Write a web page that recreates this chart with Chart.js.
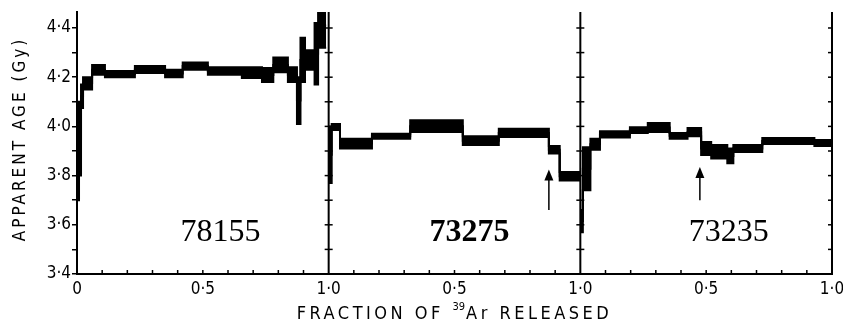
<!DOCTYPE html>
<html>
<head>
<meta charset="utf-8">
<script src="https://cdn.jsdelivr.net/npm/chart.js@4.4.0/dist/chart.umd.min.js"></script>
<style>
  html, body { margin: 0; padding: 0; background: #fff; }
  #wrap { width: 843px; height: 326px; }
</style>
</head>
<body>
<div id="wrap"><canvas id="spectra"></canvas></div>
<script>
// Ar-Ar age spectra, one panel per sample
const samples = ['78155', '73275', '73235'];

// step boundaries (fraction of 39Ar released) and the age band of each step (Gy)
const steps78155 = [0, 0.008, 0.016, 0.024, 0.06, 0.111, 0.23, 0.35, 0.42, 0.52, 0.655, 0.735, 0.78, 0.838, 0.874, 0.888, 0.906, 0.944, 0.958, 0.99];
const high78155 = [4.10, 4.08, 4.17, 4.20, 4.25, 4.225, 4.245, 4.23, 4.26, 4.24, 4.24, 4.237, 4.28, 4.24, 4.20, 4.36, 4.31, 4.42, 4.50];
const low78155 = [3.70, 3.80, 4.075, 4.15, 4.21, 4.20, 4.217, 4.20, 4.23, 4.21, 4.197, 4.18, 4.22, 4.18, 4.01, 4.18, 4.23, 4.17, 4.32];

const steps73275 = [0, 0.012, 0.045, 0.172, 0.324, 0.533, 0.676, 0.875, 0.918, 1.0];
const high73275 = [4.00, 4.01, 3.95, 3.97, 4.025, 3.96, 3.99, 3.92, 3.815];
const low73275 = [3.77, 3.985, 3.91, 3.95, 3.977, 3.924, 3.957, 3.89, 3.78];

const steps73235 = [0, 0.01, 0.04, 0.078, 0.197, 0.268, 0.355, 0.426, 0.48, 0.52, 0.584, 0.608, 0.723, 0.93, 1.0];
const high73235 = [3.66, 3.915, 3.95, 3.98, 3.997, 4.014, 3.973, 3.993, 3.937, 3.924, 3.91, 3.924, 3.953, 3.945];
const low73235 = [3.57, 3.74, 3.905, 3.955, 3.973, 3.977, 3.95, 3.96, 3.884, 3.87, 3.85, 3.896, 3.928, 3.92];

// arrows (panel index, fraction, tip age, tail age)
const arrowPanel = [1, 2];
const arrowFraction = [0.875, 0.475];
const arrowTip = [3.825, 3.835];
const arrowTail = [3.66, 3.70];

const panelSteps = [steps78155, steps73275, steps73235];
const panelHigh = [high78155, high73275, high73235];
const panelLow = [low78155, low73275, low73235];

const FONT = '"DejaVu Sans Condensed", "DejaVu Sans", sans-serif';

function stepPoints(panel, values) {
    const steps = panelSteps[panel];
    return steps.map((f, i) => ({ x: panel + f, y: values[Math.min(i, values.length - 1)] }));
}

const datasets = [];
samples.forEach((name, p) => {
    const mid = panelHigh[p].map((h, i) => (h + panelLow[p][i]) / 2);
    const common = { stepped: true, pointRadius: 0, borderColor: '#000', borderWidth: 2 };
    datasets.push(Object.assign({ label: name + ' high', data: stepPoints(p, panelHigh[p]), fill: '+1', backgroundColor: '#000' }, common));
    datasets.push(Object.assign({ label: name + ' low', data: stepPoints(p, panelLow[p]), fill: false }, common));
    datasets.push(Object.assign({ label: name + ' mid', data: stepPoints(p, mid), fill: false }, common));
});

function line(ctx, x1, y1, x2, y2) {
    ctx.beginPath();
    ctx.moveTo(x1, y1);
    ctx.lineTo(x2, y2);
    ctx.stroke();
}

const decorations = {
    id: 'decorations',
    afterDraw(chart) {
        const ctx = chart.ctx;
        const xs = chart.scales.x, ys = chart.scales.y, area = chart.chartArea;
        ctx.save();
        ctx.strokeStyle = '#000';
        ctx.fillStyle = '#000';

        // panel dividers and right edge
        ctx.lineWidth = 2;
        [1, 2, 3].forEach(v => {
            const px = xs.getPixelForValue(v);
            line(ctx, px, area.top, px, area.bottom);
        });
        ctx.lineWidth = 1.5;
        for (let k = 34; k <= 44; k++) {
            const py = ys.getPixelForValue(k / 10);
            [1, 2].forEach(v => {
                const px = xs.getPixelForValue(v);
                line(ctx, px - 4, py, px + 4, py);
            });
            const pr = xs.getPixelForValue(3);
            line(ctx, pr - 4, py, pr, py);
        }
        // inward minor ticks along the bottom
        for (let k = 1; k < 30; k++) {
            if (k % 10 === 0) continue;
            const px = xs.getPixelForValue(k / 10);
            line(ctx, px, area.bottom, px, area.bottom - 4);
        }

        // arrows
        arrowPanel.forEach((p, i) => {
            const px = xs.getPixelForValue(p + arrowFraction[i]);
            const tip = ys.getPixelForValue(arrowTip[i]);
            const tail = ys.getPixelForValue(arrowTail[i]);
            ctx.lineWidth = 1.5;
            line(ctx, px, tail, px, tip + 8);
            ctx.beginPath();
            ctx.moveTo(px, tip);
            ctx.lineTo(px - 4.5, tip + 11);
            ctx.lineTo(px + 4.5, tip + 11);
            ctx.closePath();
            ctx.fill();
        });

        // sample numbers
        const labelAt = [0.57, 0.56, 0.59];
        ctx.textAlign = 'center';
        ctx.textBaseline = 'alphabetic';
        samples.forEach((name, p) => {
            ctx.font = (p === 1 ? 'bold ' : '') + '32px "Liberation Serif", serif';
            ctx.fillText(name, xs.getPixelForValue(p + labelAt[p]), 241);
        });

        // axis titles
        ctx.letterSpacing = '3px';
        ctx.font = '17px ' + FONT;
        ctx.save();
        ctx.translate(21, 139);
        ctx.rotate(-Math.PI / 2);
        ctx.textBaseline = 'middle';
        ctx.fillText('APPARENT AGE (Gy)', 0, 0);
        ctx.restore();

        ctx.textAlign = 'left';
        const part1 = 'FRACTION OF ', sup = '39', part2 = 'Ar RELEASED';
        ctx.letterSpacing = '3.5px';
        ctx.font = '18px ' + FONT;
        const w1 = ctx.measureText(part1).width, w2 = ctx.measureText(part2).width;
        ctx.letterSpacing = '0px';
        ctx.font = '11px ' + FONT;
        const ws = ctx.measureText(sup).width + 1;
        let x = (area.left + area.right) / 2 - (w1 + ws + w2) / 2;
        ctx.fillText(sup, x + w1, 310);
        ctx.letterSpacing = '3.5px';
        ctx.font = '18px ' + FONT;
        ctx.fillText(part1, x, 319);
        ctx.fillText(part2, x + w1 + ws, 319);
        ctx.restore();
    }
};

new Chart(document.getElementById('spectra'), {
    type: 'line',
    data: { datasets: datasets },
    plugins: [decorations],
    options: {
        responsive: true,
        maintainAspectRatio: false,
        animation: false,
        layout: { padding: { top: 12, right: 11, left: 0, bottom: 0 } },
        plugins: { legend: { display: false }, tooltip: { enabled: false } },
        scales: {
            x: {
                type: 'linear',
                min: 0,
                max: 3,
                grid: { display: false, drawTicks: false },
                border: { display: true, color: '#000', width: 2 },
                ticks: {
                    stepSize: 0.5,
                    autoSkip: false,
                    maxRotation: 0,
                    padding: 5,
                    color: '#000',
                    font: { family: FONT, size: 17 },
                    callback: v => {
                        const k = Math.round(v * 10);
                        if (k === 0) return '0';
                        return k % 10 === 0 ? '1·0' : '0·5';
                    }
                },
                afterFit: s => { s.height = 52; s.paddingLeft = 0; s.paddingRight = 0; }
            },
            y: {
                min: 3.4,
                max: 4.465,
                grid: { drawOnChartArea: false, color: '#000', tickLength: 5, lineWidth: 1.5 },
                border: { color: '#000', width: 2 },
                ticks: {
                    stepSize: 0.1,
                    includeBounds: false,
                    autoSkip: false,
                    padding: 1,
                    color: '#000',
                    font: { family: FONT, size: 17 },
                    callback: v => Math.round(v * 10) % 2 === 0 ? v.toFixed(1).replace('.', '·') : ''
                },
                afterFit: s => { s.width = 77; s.paddingTop = 0; s.paddingBottom = 0; }
            }
        }
    }
});
</script>
</body>
</html>
